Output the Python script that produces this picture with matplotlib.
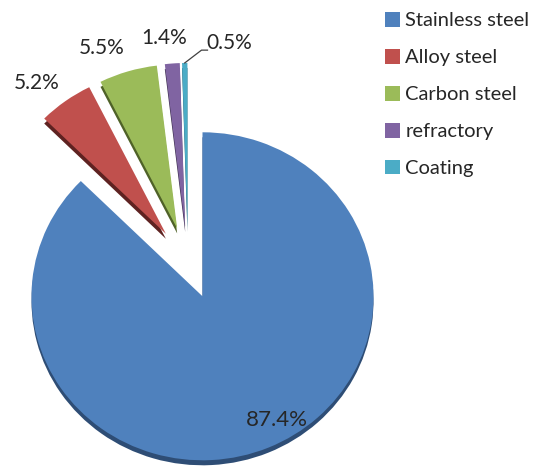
import numpy as np
import matplotlib.pyplot as plt

plt.rcParams['font.family'] = ['Lato', 'DejaVu Sans']

# data
materials = ['Stainless steel', 'Alloy steel', 'Carbon steel', 'refractory', 'Coating']
shares = [87.4, 5.2, 5.5, 1.4, 0.5]

colors = ['#4F81BD', '#C0504D', '#9BBB59', '#8064A2', '#4BACC6']
side_colors = ['#2E4D75', '#5E2221', '#4F6228', '#3F3151', '#215968']

# label placement: (angle nudge from slice middle in degrees, distance from pie centre)
label_nudge = [5.9, 2.8, 4.2, 1.5, -11.2]
label_dist = [1.09, 1.41, 1.405, 1.38, 1.365]
label_size = [16, 15, 15, 15, 15]

fig = plt.figure(figsize=(5.37, 4.72), dpi=100)
ax = fig.add_axes([0, 0, 1, 1])

explode = [0.22] * len(shares)
depth = 5 / 164.0  # 3d side thickness (data units)

# side of the "3d" pie, shifted down
ax.pie(shares, explode=explode, startangle=90, counterclock=False,
       colors=side_colors, center=(0, -depth),
       wedgeprops=dict(linewidth=0))
# top surface
wedges, _ = ax.pie(shares, explode=explode, startangle=90, counterclock=False,
                   colors=colors, wedgeprops=dict(linewidth=0))

for i, w in enumerate(wedges):
    mid = np.deg2rad((w.theta1 + w.theta2) / 2 + label_nudge[i])
    lx = label_dist[i] * np.cos(mid)
    ly = label_dist[i] * np.sin(mid)
    ax.text(lx, ly, '%.1f%%' % shares[i], ha='center', va='center',
            fontsize=label_size[i], color='#262626')
    if i == len(shares) - 1:
        # leader line for the tiny slice
        a = np.deg2rad((w.theta1 + w.theta2) / 2)
        cx, cy = w.center
        tx, ty = cx + w.r * np.cos(a), cy + w.r * np.sin(a)
        ax.plot([tx, lx - 0.165, lx - 0.13], [ty, ly - 0.045, ly - 0.045],
                color='#404040', lw=0.9)

ax.set_aspect('auto')
ax.set_xlim(-188 / 171.0, (537 - 188) / 171.0)
ax.set_ylim(-209 / 164.0, (472 - 209) / 164.0)
ax.axis('off')

leg = ax.legend(wedges, materials, loc='upper left', bbox_to_anchor=(385 / 537.0, 1 - 12 / 472.0),
                bbox_transform=fig.transFigure, frameon=False, fontsize=14.5,
                handlelength=0.75, handleheight=0.75, handletextpad=0.25,
                labelspacing=0.97, borderpad=0, borderaxespad=0)
for t in leg.get_texts():
    t.set_color('#262626')

fig.savefig('out.png', dpi=100)
